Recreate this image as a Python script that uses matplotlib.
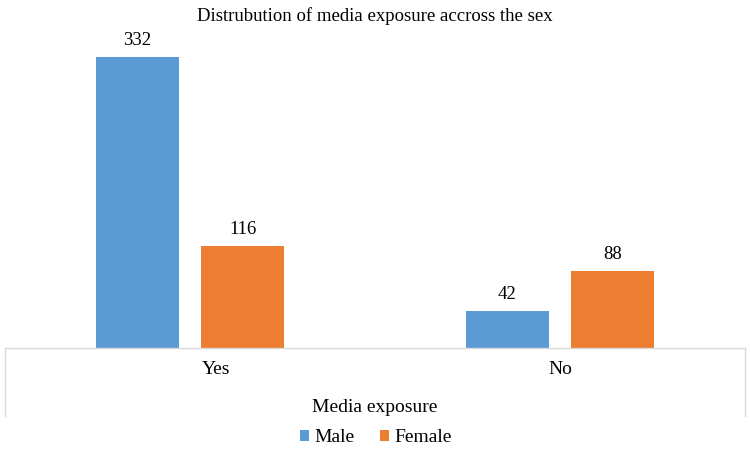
import matplotlib.pyplot as plt
from matplotlib.lines import Line2D
import numpy as np

plt.rcParams['font.family'] = ['Liberation Serif', 'DejaVu Serif']

categories = ['Yes', 'No']
male = [332, 42]
female = [116, 88]
series_names = ['Male', 'Female']
colors = ['#5B9BD5', '#ED7D31']

fig = plt.figure(figsize=(7.5, 4.53), dpi=100)
ax = fig.add_axes([5 / 750, 105 / 453, 740 / 750, 308 / 453])

x = np.arange(len(categories))
w = 0.224
off = 0.143
b1 = ax.bar(x - off, male, w, color=colors[0], label=series_names[0])
b2 = ax.bar(x + off, female, w, color=colors[1], label=series_names[1])
for bars in (b1, b2):
    for r in bars:
        ax.annotate(str(int(r.get_height())),
                    (r.get_x() + r.get_width() / 2, r.get_height()),
                    xytext=(0, 6), textcoords='offset points',
                    ha='center', va='bottom', fontsize=13.5)

ax.set_xlim(-0.5, 1.5)
ax.set_ylim(0, 351.4)
ax.set_yticks([])
ax.set_xticks([0.07, 1])
ax.set_xticklabels(categories, fontsize=14)
ax.tick_params(axis='x', length=0, pad=9)
for s in ['top', 'left', 'right']:
    ax.spines[s].set_visible(False)
ax.spines['bottom'].set_color('#D9D9D9')
ax.spines['bottom'].set_linewidth(1)

# frame lines below the axis
for xp in (5 / 750, 745 / 750):
    fig.add_artist(Line2D([xp, xp], [105 / 453, 37 / 453],
                          color='#D9D9D9', lw=1))

fig.text(375 / 750, 1 - 16 / 453, 'Distrubution of media exposure accross the sex',
         ha='center', va='center', fontsize=13.5)
fig.text(375 / 750, 1 - 407 / 453, 'Media exposure',
         ha='center', va='center', fontsize=14)

fig.legend(handles=[b1, b2], loc='center', bbox_to_anchor=(376 / 750, 1 - 438 / 453),
           ncol=2, frameon=False, fontsize=14, handlelength=0.45, handleheight=0.45,
           handletextpad=0.3, columnspacing=1.3)

fig.savefig('out.png', dpi=100)
